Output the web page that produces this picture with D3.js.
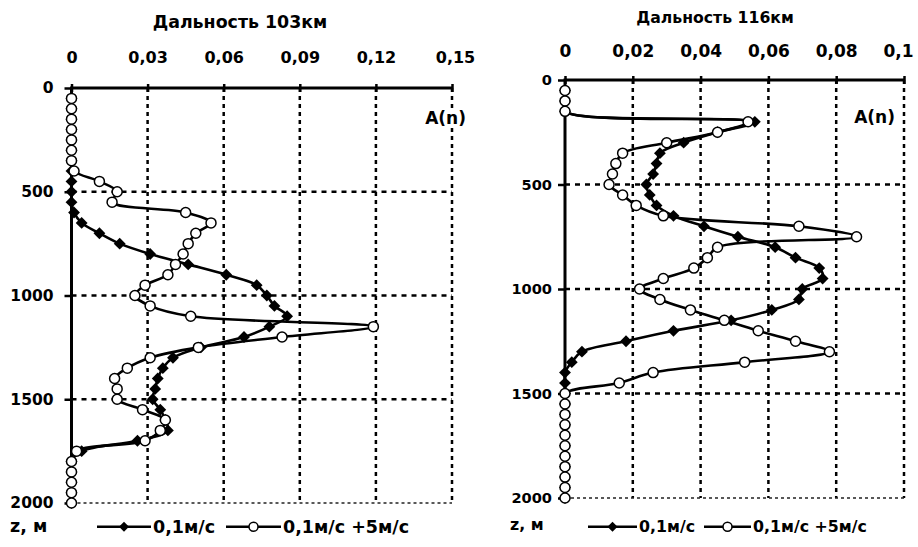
<!DOCTYPE html>
<html>
<head>
<meta charset="utf-8">
<script src="https://cdn.jsdelivr.net/npm/d3@7"></script>
<style>
  body { margin: 0; background: #fff; }
  svg { display: block; }
  text { font-family: "DejaVu Sans", sans-serif; font-weight: bold; fill: #000; }
</style>
</head>
<body>
<div id="chart"></div>
<script>
// depth of each sample, m
const depths = [50, 100, 150, 200, 250, 300, 350, 400, 450, 500,
	550, 600, 650, 700, 750, 800, 850, 900, 950, 1000,
	1050, 1100, 1150, 1200, 1250, 1300, 1350, 1400, 1450, 1500,
	1550, 1600, 1650, 1700, 1750, 1800, 1850, 1900, 1950, 2000];

const depthTicks = [0, 500, 1000, 1500, 2000];
const xTicks103 = [0, 0.03, 0.06, 0.09, 0.12, 0.15];
const xTicks116 = [0, 0.02, 0.04, 0.06, 0.08, 0.1];

const seriesNames = ["0,1м/с", "0,1м/с +5м/с"];

// Дальность 103км
const calm103 = [0, 0, 0, 0, 0, 0, 0, 0, 0, 0,
	0, 0.001, 0.004, 0.011, 0.019, 0.031, 0.046, 0.061, 0.073, 0.077,
	0.080, 0.085, 0.078, 0.068, 0.051, 0.040, 0.036, 0.034, 0.033, 0.032,
	0.035, 0.037, 0.038, 0.026, 0.004, 0, 0, 0, 0, 0];
const wind103 = [0, 0, 0, 0, 0, 0, 0, 0.001, 0.011, 0.018,
	0.016, 0.045, 0.055, 0.049, 0.046, 0.044, 0.041, 0.038, 0.029, 0.025,
	0.031, 0.047, 0.119, 0.083, 0.050, 0.031, 0.022, 0.017, 0.018, 0.018,
	0.028, 0.037, 0.035, 0.029, 0.002, 0, 0, 0, 0, 0];

// Дальность 116км
const calm116 = [0, 0, 0, 0.056, 0.045, 0.035, 0.028, 0.027, 0.026, 0.024,
	0.025, 0.027, 0.032, 0.041, 0.051, 0.062, 0.068, 0.075, 0.076, 0.070,
	0.069, 0.061, 0.049, 0.032, 0.018, 0.005, 0.002, 0, 0, 0,
	0, 0, 0, 0, 0, 0, 0, 0, 0, 0];
const wind116 = [0, 0, 0, 0.054, 0.045, 0.030, 0.017, 0.015, 0.014, 0.013,
	0.017, 0.021, 0.029, 0.069, 0.086, 0.045, 0.042, 0.038, 0.029, 0.022,
	0.028, 0.037, 0.047, 0.057, 0.068, 0.078, 0.053, 0.026, 0.016, 0,
	0, 0, 0, 0, 0, 0, 0, 0, 0, 0];

const width = 918, height = 547;

const svg = d3.select("#chart").append("svg")
	.attr("width", width)
	.attr("height", height);

const fmt = v => String(v).replace(".", ",");

function drawPanel(p) {
	const x = d3.scaleLinear().domain([0, p.xTicks[p.xTicks.length - 1]]).range([p.left, p.right]);
	const y = d3.scaleLinear().domain([0, 2000]).range([p.top, p.bottom]);
	const g = svg.append("g");

	// title
	g.append("text")
		.attr("x", p.titleX)
		.attr("y", p.titleY)
		.attr("text-anchor", "middle")
		.attr("font-size", p.titleSize)
		.text(p.title);

	// grid
	g.selectAll(".vgrid")
		.data(p.xTicks.slice(1))
		.join("line")
		.attr("x1", d => x(d)).attr("x2", d => x(d))
		.attr("y1", y(0)).attr("y2", y(2000))
		.attr("stroke", "#000")
		.attr("stroke-width", 2.5)
		.attr("stroke-dasharray", "4,4");

	g.selectAll(".hgrid")
		.data([500, 1000, 1500])
		.join("line")
		.attr("x1", x(0)).attr("x2", p.right)
		.attr("y1", d => y(d)).attr("y2", d => y(d))
		.attr("stroke", "#000")
		.attr("stroke-width", 2.5)
		.attr("stroke-dasharray", "5,5");

	g.append("line")
		.attr("x1", x(0)).attr("x2", p.right)
		.attr("y1", y(2000)).attr("y2", y(2000))
		.attr("stroke", "#222")
		.attr("stroke-width", 1.5)
		.attr("stroke-dasharray", "3,3");

	// A(n) label
	const an = g.append("text")
		.attr("x", p.anX)
		.attr("y", p.anY)
		.attr("text-anchor", "end")
		.attr("font-size", 17)
		.text("A(n)");
	const bb = an.node().getBBox();
	g.insert("rect", "text:last-of-type")
		.attr("x", bb.x - 3).attr("y", bb.y)
		.attr("width", bb.width + 6).attr("height", bb.height)
		.attr("fill", "#fff");
	an.raise();

	// x axis on top
	const xAxis = g.append("g")
		.attr("transform", `translate(0,${y(0)})`)
		.call(d3.axisTop(x).tickValues(p.xTicks).tickFormat(fmt).tickSizeInner(4).tickSizeOuter(0).tickPadding(p.xPad));
	xAxis.select(".domain").remove();
	xAxis.selectAll("line").attr("y1", 4).attr("stroke-width", 2.5);
	xAxis.selectAll("text")
		.attr("font-family", "DejaVu Sans")
		.attr("font-weight", "bold")
		.attr("font-size", p.xTickSize)
		.attr("dx", (d, i) => i === p.xTicks.length - 1 ? p.lastShift : 0);

	// depth axis
	const yAxis = g.append("g")
		.attr("transform", `translate(${x(0)},0)`)
		.call(d3.axisLeft(y).tickValues(depthTicks).tickFormat(d3.format("d")).tickSizeInner(7).tickSizeOuter(0).tickPadding(p.yPad));
	yAxis.select(".domain").remove();
	yAxis.selectAll("line").attr("stroke-width", 2.5);
	yAxis.selectAll("text")
		.attr("font-family", "DejaVu Sans")
		.attr("font-weight", "bold")
		.attr("font-size", p.yTickSize);

	g.append("line")
		.attr("x1", x(0)).attr("x2", p.right)
		.attr("y1", y(0)).attr("y2", y(0))
		.attr("stroke", "#000").attr("stroke-width", 3);
	g.append("line")
		.attr("x1", x(0)).attr("x2", x(0))
		.attr("y1", y(0) - 1.5).attr("y2", y(2000))
		.attr("stroke", "#000").attr("stroke-width", 3);

	// series
	const line = d3.line()
		.x(d => x(d.v))
		.y(d => y(d.z))
		.curve(d3.curveCatmullRom.alpha(0.5));

	p.series.forEach((values, k) => {
		const pts = depths.map((z, i) => ({ z: z, v: values[i] }));
		g.append("path")
			.attr("d", line(pts))
			.attr("fill", "none")
			.attr("stroke", "#000")
			.attr("stroke-width", 2.6);
		if (k === 0) {
			g.selectAll(null)
				.data(pts)
				.join("path")
				.attr("d", d3.symbol(d3.symbolSquare).size(70))
				.attr("transform", d => `translate(${x(d.v)},${y(d.z)}) rotate(45)`)
				.attr("fill", "#000");
		} else {
			g.selectAll(null)
				.data(pts)
				.join("circle")
				.attr("cx", d => x(d.v))
				.attr("cy", d => y(d.z))
				.attr("r", 5)
				.attr("fill", "#fff")
				.attr("stroke", "#000")
				.attr("stroke-width", 1.5);
		}
	});

	// legend
	const lg = p.legend;
	g.append("text")
		.attr("x", lg.zX).attr("y", lg.baseline)
		.attr("font-size", lg.size)
		.text("z, м");
	lg.items.forEach((it, k) => {
		g.append("line")
			.attr("x1", it.x1).attr("x2", it.x2)
			.attr("y1", lg.lineY).attr("y2", lg.lineY)
			.attr("stroke", "#000").attr("stroke-width", 2.6);
		const mx = (it.x1 + it.x2) / 2;
		if (k === 0) {
			g.append("path")
				.attr("d", d3.symbol(d3.symbolSquare).size(50))
				.attr("transform", `translate(${mx},${lg.lineY}) rotate(45)`)
				.attr("fill", "#000");
		} else {
			g.append("circle")
				.attr("cx", mx).attr("cy", lg.lineY).attr("r", 4.5)
				.attr("fill", "#fff").attr("stroke", "#000").attr("stroke-width", 1.5);
		}
		g.append("text")
			.attr("x", it.x2 + 2).attr("y", lg.baseline + 1.5)
			.attr("font-size", lg.size)
			.text(seriesNames[k]);
	});
}

drawPanel({
	title: "Дальность 103км", titleX: 240, titleY: 28, titleSize: 17.4,
	left: 71.5, right: 452, top: 88, bottom: 503,
	xTicks: xTicks103, xPad: 21, xTickSize: 16, lastShift: 3,
	yPad: 11, yTickSize: 15.5,
	anX: 466, anY: 124,
	series: [calm103, wind103],
	legend: {
		zX: 10, baseline: 531.5, lineY: 526.7, size: 17.5,
		items: [{ x1: 97, x2: 151 }, { x1: 226, x2: 281 }]
	}
});

drawPanel({
	title: "Дальность 116км", titleX: 715, titleY: 23.3, titleSize: 15.7,
	left: 565, right: 904, top: 80, bottom: 498,
	xTicks: xTicks116, xPad: 19.5, xTickSize: 17, lastShift: -6,
	yPad: 6, yTickSize: 14.6,
	anX: 895, anY: 123,
	series: [calm116, wind116],
	legend: {
		zX: 510, baseline: 530, lineY: 526.7, size: 15.8,
		items: [{ x1: 588, x2: 637 }, { x1: 704, x2: 751 }]
	}
});
</script>
</body>
</html>
